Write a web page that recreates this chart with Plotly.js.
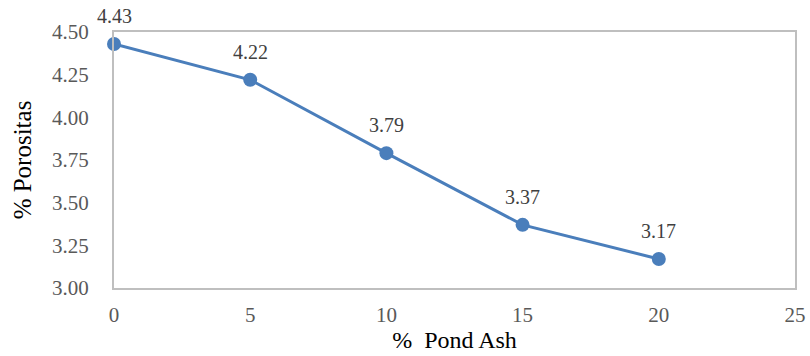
<!DOCTYPE html>
<html>
<head>
<meta charset="utf-8">
<script src="https://cdn.plot.ly/plotly-3.0.1.min.js"></script>
<style>
  html, body { margin: 0; padding: 0; background: #fff; }
  #chart { width: 810px; height: 356px; }
</style>
</head>
<body>
<div id="chart"></div>
<script>
// Porosity (%) against pond ash content (%)
const pondAsh = [0, 5, 10, 15, 20];
const porositas = [4.43, 4.22, 3.79, 3.37, 3.17];
const xTicks = [0, 5, 10, 15, 20, 25];
const yTicks = [3.00, 3.25, 3.50, 3.75, 4.00, 4.25, 4.50];

const serif = 'Liberation Serif, Times New Roman, DejaVu Serif, serif';
const blue = '#4a7ebb';

const trace = {
  x: pondAsh,
  y: porositas,
  type: 'scatter',
  mode: 'lines+markers',
  line: { color: blue, width: 3 },
  marker: { color: blue, size: 14 },
  cliponaxis: false,
  hoverinfo: 'x+y'
};

// value labels sitting above each point
const valueLabels = pondAsh.map((x, i) => ({
  x: x,
  y: porositas[i],
  xref: 'x',
  yref: 'y',
  text: porositas[i].toFixed(2),
  showarrow: false,
  yshift: 28,
  font: { family: serif, size: 20, color: '#404040' }
}));

const layout = {
  width: 810,
  height: 356,
  margin: { l: 114, r: 15, t: 32, b: 68 },
  paper_bgcolor: '#ffffff',
  plot_bgcolor: '#ffffff',
  showlegend: false,
  font: { family: serif, color: '#595959' },
  annotations: valueLabels,
  xaxis: {
    range: [0, 25],
    tickvals: xTicks,
    ticktext: xTicks.map(String),
    showgrid: false,
    zeroline: false,
    showline: true,
    linecolor: '#bfbfbf',
    linewidth: 2,
    mirror: true,
    ticks: 'outside',
    ticklen: 7,
    tickcolor: 'rgba(0,0,0,0)',
    tickfont: { family: serif, size: 21, color: '#595959' },
    title: { text: '%  Pond Ash', font: { family: serif, size: 24, color: '#000000' }, standoff: 5 }
  },
  yaxis: {
    range: [3.0, 4.5],
    tickvals: yTicks,
    ticktext: yTicks.map(v => v.toFixed(2)),
    showgrid: false,
    zeroline: false,
    showline: true,
    linecolor: '#bfbfbf',
    linewidth: 2,
    mirror: true,
    ticks: 'outside',
    ticklen: 19,
    tickcolor: 'rgba(0,0,0,0)',
    tickfont: { family: serif, size: 21, color: '#595959' },
    title: { text: '% Porositas', font: { family: serif, size: 25, color: '#000000' }, standoff: 13 }
  }
};

Plotly.newPlot('chart', [trace], layout, { displayModeBar: false, staticPlot: true });
</script>
</body>
</html>
